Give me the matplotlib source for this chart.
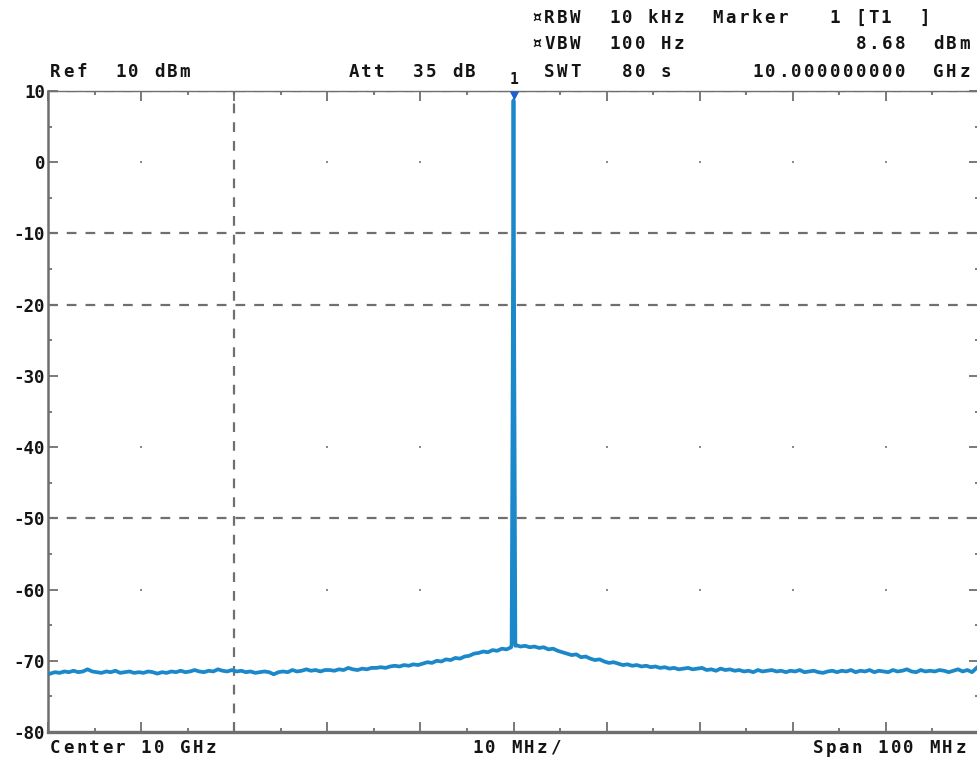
"""Spectrum analyser screen: single carrier at 10 GHz, 100 MHz span."""

import matplotlib

matplotlib.use("Agg")
import matplotlib.pyplot as plt
import numpy as np
from matplotlib.path import Path

# sweep settings shown on the screen
REF_DBM = 10
ATT_DB = 35
RBW = "10 kHz"
VBW = "100 Hz"
SWT = "80 s"
SPAN_MHZ = 100
DIV_MHZ = 10
Y_MIN, Y_MAX = -80, 10

# marker 1 readout
MARKER_MHZ = 0.0
MARKER_DBM = 8.68
MARKER_FREQ = "10.000000000"

# noise floor, one trace point every 0.5 MHz from -49.75 to +49.75 MHz
FLOOR_MHZ = np.arange(-49.75, 50.0, 0.5)
FLOOR_DBM = [
    -71.8, -71.6, -71.7, -71.5, -71.6, -71.4, -71.6, -71.5, -71.2, -71.5,
    -71.6, -71.7, -71.5, -71.6, -71.4, -71.7, -71.6, -71.5, -71.7, -71.6,
    -71.7, -71.5, -71.6, -71.8, -71.6, -71.7, -71.5, -71.6, -71.4, -71.6,
    -71.5, -71.3, -71.5, -71.6, -71.4, -71.5, -71.2, -71.4, -71.5, -71.3,
    -71.5, -71.4, -71.6, -71.5, -71.7, -71.6, -71.5, -71.6, -71.9, -71.6,
    -71.5, -71.6, -71.3, -71.5, -71.4, -71.2, -71.4, -71.3, -71.5, -71.3,
    -71.3, -71.4, -71.2, -71.3, -71.0, -71.2, -71.3, -71.1, -71.2, -71.0,
    -71.0, -70.9, -71.0, -70.8, -70.7, -70.8, -70.6, -70.7, -70.5, -70.6,
    -70.4, -70.2, -70.3, -70.0, -70.1, -69.8, -69.9, -69.6, -69.7, -69.4,
    -69.3, -69.0, -68.9, -68.7, -68.8, -68.5, -68.6, -68.3, -68.4, -68.1,
    -67.8, -68.0, -67.9, -68.1, -68.0, -68.2, -68.1, -68.4, -68.3, -68.6,
    -68.8, -69.0, -69.2, -69.1, -69.5, -69.4, -69.7, -69.9, -69.8, -70.1,
    -70.3, -70.2, -70.4, -70.6, -70.5, -70.7, -70.6, -70.8, -70.7, -70.9,
    -70.8, -71.0, -70.9, -71.1, -71.0, -71.2, -71.1, -71.0, -71.2, -71.1,
    -71.0, -71.3, -71.2, -71.4, -71.1, -71.3, -71.2, -71.4, -71.3, -71.5,
    -71.4, -71.6, -71.3, -71.5, -71.4, -71.3, -71.5, -71.4, -71.6, -71.4,
    -71.5, -71.3, -71.6, -71.5, -71.4, -71.6, -71.7, -71.5, -71.4, -71.6,
    -71.4, -71.5, -71.3, -71.6, -71.4, -71.5, -71.3, -71.6, -71.4, -71.5,
    -71.6, -71.3, -71.5, -71.4, -71.2, -71.5, -71.6, -71.3, -71.5, -71.4,
    -71.5, -71.3, -71.4, -71.6, -71.4, -71.2, -71.5, -71.3, -71.6, -71.0,
]

# carrier skirt around the centre frequency
CARRIER_MHZ = [-0.2, -0.08, MARKER_MHZ, 0.08, 0.2]
CARRIER_DBM = [-67.6, -28.0, MARKER_DBM, -28.0, -67.9]

# graticule rows/cols that are drawn dashed, and rows carrying centre dots
DASHED_ROWS = [10, -10, -20, -50]
DASHED_COLS = [-30]
DOT_ROWS = [0, -40, -60]

W, H = 977, 762
TRACE = "#1b88c9"
MARKER = "#1f5ed2"
GRID = "#6f6f6f"
INK = "#141414"
MONO = "DejaVu Sans Mono"
PITCH = 12.95
FS = 12.6

plt.rcParams["lines.scale_dashes"] = False
plt.rcParams["axes.unicode_minus"] = False

fig = plt.figure(figsize=(W / 100, H / 100), dpi=100)
ax = fig.add_axes([48 / W, 30 / H, 931 / W, 641 / H])

half = SPAN_MHZ / 2
ax.set_xlim(-half, half)
ax.set_ylim(Y_MIN, Y_MAX)

for y in DASHED_ROWS:
    ax.axhline(y, color=GRID, lw=1.6, dashes=(7, 6.5), zorder=1)
for x in DASHED_COLS:
    ax.axvline(x, color=GRID, lw=1.6, dashes=(7, 6.5), zorder=1)

cols = [c for c in range(-40, 41, DIV_MHZ) if c not in DASHED_COLS]
dot_x = [c for c in cols for _ in DOT_ROWS]
dot_y = [r for _ in cols for r in DOT_ROWS]
ax.plot(dot_x, dot_y, ls="none", marker="s", ms=1.6, color="#8a8a8a", mew=0, zorder=1)

freq = np.concatenate([FLOOR_MHZ, CARRIER_MHZ])
level = np.concatenate([FLOOR_DBM, CARRIER_DBM])
order = np.argsort(freq, kind="stable")
ax.plot(freq[order], level[order], color=TRACE, lw=2.7, zorder=3, solid_joinstyle="round")

# marker triangle sits on top of the peak with its tip on the trace
tri = Path([(-0.6, 1.15), (0.6, 1.15), (0.0, 0.0), (-0.6, 1.15)], closed=True)
ax.plot([MARKER_MHZ], [MARKER_DBM], ls="none", marker=tri, ms=13, color=MARKER, mew=0, zorder=4)

ax.set_xticks(np.arange(-half, half + 1, DIV_MHZ))
ax.set_xticks(np.arange(-half + DIV_MHZ / 2, half, DIV_MHZ), minor=True)
ax.set_yticks(np.arange(Y_MIN, Y_MAX + 1, 10))
ax.set_yticks(np.arange(Y_MIN + 5, Y_MAX, 10), minor=True)
ax.set_xticklabels([])
ax.tick_params(which="both", direction="in", top=True, right=True, color=GRID, width=1.3)
ax.tick_params(which="major", length=7)
ax.tick_params(which="minor", length=3)
ax.tick_params(axis="y", which="major", labelsize=FS, pad=2, labelcolor=INK)
for lab in ax.get_yticklabels():
    lab.set_fontfamily(MONO)
    lab.set_fontweight("bold")

for side, lw in (("left", 1.8), ("bottom", 2.4), ("top", 1.0), ("right", 1.6)):
    ax.spines[side].set_color(GRID)
    ax.spines[side].set_linewidth(lw)


def screen_text(x, y, s, size=FS):
    """Write s on a fixed character grid starting at pixel (x, y) from top-left."""
    for i, ch in enumerate(s):
        if ch == " ":
            continue
        fig.text((x + (i + 0.5) * PITCH) / W, 1 - y / H, ch, fontsize=size,
                 family=MONO, weight="bold", color=INK, ha="center", va="center")


def screen_text_right(x_end, y, s):
    screen_text(x_end - len(s) * PITCH, y, s)


screen_text(530, 18, f"¤RBW  {RBW}  Marker   1 [T1  ]")
screen_text(530, 44, f"¤VBW  {VBW}")
screen_text(530, 72, f" SWT   {SWT}")
screen_text_right(971, 44, f"{MARKER_DBM:.2f}  dBm")
screen_text_right(971, 72, f"{MARKER_FREQ}  GHz")
screen_text(49, 72, f"Ref  {REF_DBM} dBm")
screen_text(347, 72, f"Att  {ATT_DB} dB")

fig.text(514 / W, 1 - 79 / H, "1", fontsize=10.5, family=MONO, weight="bold",
         color=INK, ha="center", va="center")

screen_text(49, 748, "Center 10 GHz")
screen_text(471, 748, f"{DIV_MHZ} MHz/")
screen_text_right(967, 748, f"Span {SPAN_MHZ} MHz")

fig.savefig("out.png", dpi=100, facecolor="white")
